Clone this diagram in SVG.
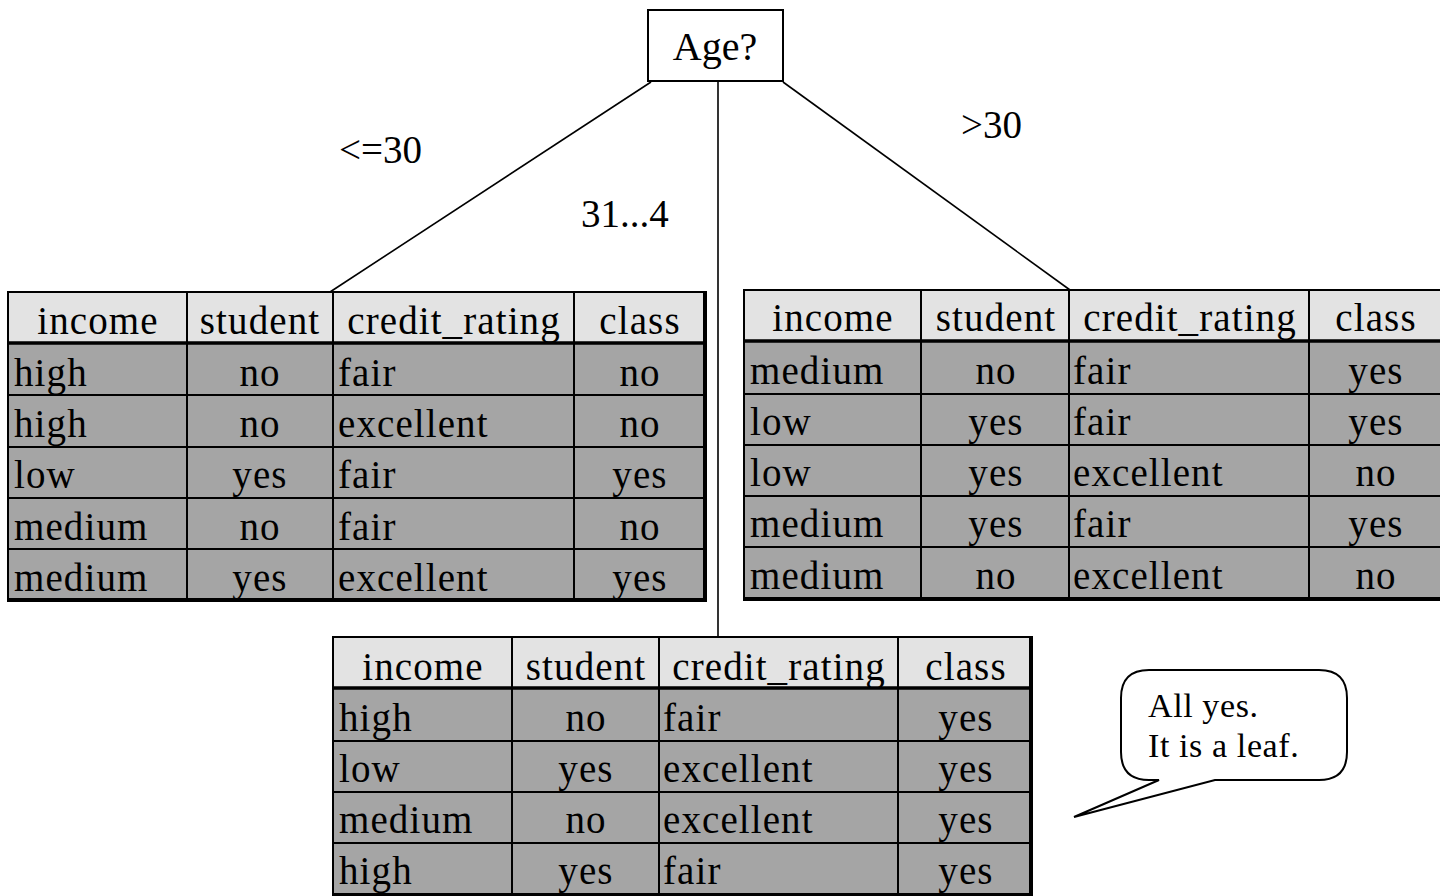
<svg xmlns="http://www.w3.org/2000/svg" width="1440" height="896" viewBox="0 0 1440 896">
  <style>
    text { font-family: "Liberation Serif", "Times New Roman", serif; fill: #000; }
    .cell { font-size: 39px; letter-spacing: 1.1px; }
    .mid { text-anchor: middle; }
    .lbl { font-size: 39px; }
    .note { font-size: 34px; letter-spacing: 0.6px; }
    .head { fill: #e3e3e3; }
    .body { fill: #a5a5a5; }
    .grid { stroke: #000; stroke-width: 2; fill: none; }
    .heavy { stroke: #000; stroke-width: 4; fill: none; }
    .rule { stroke: #000; stroke-width: 3.5; fill: none; }
    .edge { stroke: #000; stroke-width: 1.6; fill: none; }
  </style>

  <rect width="1440" height="896" fill="#fff"/>

  <!-- branches of the split -->
  <g id="connectors">
    <line class="edge" x1="651" y1="82" x2="330" y2="292"/>
    <line class="edge" x1="718" y1="81" x2="718" y2="637"/>
    <line class="edge" x1="783" y1="82" x2="1070" y2="290"/>
  </g>

  <!-- branch labels -->
  <g id="labels">
    <text class="lbl" x="339" y="163">&lt;=30</text>
    <text class="lbl" x="961" y="138">&gt;30</text>
    <text class="lbl" x="581" y="227">31...4</text>
  </g>

  <!-- root test -->
  <g id="age">
    <rect x="648" y="10" width="135" height="71" fill="#fff" stroke="#000" stroke-width="2"/>
    <text class="lbl mid" x="715" y="60" style="font-size:40px">Age?</text>
  </g>

  <!-- partition: age <= 30 -->
  <g id="table-young">
    <rect class="head" x="8" y="292" width="697" height="51"/>
    <rect class="body" x="8" y="343" width="697" height="257"/>
    <path class="grid" d="M8 395H705M8 447H705M8 498H705M8 549H705M187 292V600M333 292V600M574 292V600M8 600V292H705"/>
    <path class="rule" d="M8 343H705"/>
    <path class="heavy" d="M705 291V600H7"/>
    <text class="cell mid" x="98" y="334">income</text>
    <text class="cell mid" x="260" y="334">student</text>
    <text class="cell mid" x="454" y="334">credit_rating</text>
    <text class="cell mid" x="640" y="334">class</text>

    <text class="cell" x="14" y="386">high</text>
    <text class="cell mid" x="260" y="386">no</text>
    <text class="cell" x="338" y="386">fair</text>
    <text class="cell mid" x="640" y="386">no</text>

    <text class="cell" x="14" y="437">high</text>
    <text class="cell mid" x="260" y="437">no</text>
    <text class="cell" x="338" y="437">excellent</text>
    <text class="cell mid" x="640" y="437">no</text>

    <text class="cell" x="14" y="488">low</text>
    <text class="cell mid" x="260" y="488">yes</text>
    <text class="cell" x="338" y="488">fair</text>
    <text class="cell mid" x="640" y="488">yes</text>

    <text class="cell" x="14" y="540">medium</text>
    <text class="cell mid" x="260" y="540">no</text>
    <text class="cell" x="338" y="540">fair</text>
    <text class="cell mid" x="640" y="540">no</text>

    <text class="cell" x="14" y="591">medium</text>
    <text class="cell mid" x="260" y="591">yes</text>
    <text class="cell" x="338" y="591">excellent</text>
    <text class="cell mid" x="640" y="591">yes</text>
  </g>

  <!-- partition: age > 30 -->
  <g id="table-old">
    <rect class="head" x="744" y="290" width="700" height="51"/>
    <rect class="body" x="744" y="341" width="700" height="258"/>
    <path class="grid" d="M744 394H1444M744 445H1444M744 496H1444M744 547H1444M921 290V599M1069 290V599M1309 290V599M744 599V290H1444"/>
    <path class="rule" d="M744 341H1444"/>
    <path class="heavy" d="M743 599H1444"/>
    <text class="cell mid" x="833" y="331">income</text>
    <text class="cell mid" x="996" y="331">student</text>
    <text class="cell mid" x="1190" y="331">credit_rating</text>
    <text class="cell mid" x="1376" y="331">class</text>

    <text class="cell" x="750" y="384">medium</text>
    <text class="cell mid" x="996" y="384">no</text>
    <text class="cell" x="1073" y="384">fair</text>
    <text class="cell mid" x="1376" y="384">yes</text>

    <text class="cell" x="750" y="435">low</text>
    <text class="cell mid" x="996" y="435">yes</text>
    <text class="cell" x="1073" y="435">fair</text>
    <text class="cell mid" x="1376" y="435">yes</text>

    <text class="cell" x="750" y="486">low</text>
    <text class="cell mid" x="996" y="486">yes</text>
    <text class="cell" x="1073" y="486">excellent</text>
    <text class="cell mid" x="1376" y="486">no</text>

    <text class="cell" x="750" y="537">medium</text>
    <text class="cell mid" x="996" y="537">yes</text>
    <text class="cell" x="1073" y="537">fair</text>
    <text class="cell mid" x="1376" y="537">yes</text>

    <text class="cell" x="750" y="589">medium</text>
    <text class="cell mid" x="996" y="589">no</text>
    <text class="cell" x="1073" y="589">excellent</text>
    <text class="cell mid" x="1376" y="589">no</text>
  </g>

  <!-- partition: age 31...40 -->
  <g id="table-middle">
    <rect class="head" x="333" y="637" width="698" height="51"/>
    <rect class="body" x="333" y="688" width="698" height="207"/>
    <path class="grid" d="M333 741H1031M333 792H1031M333 843H1031M512 637V896M659 637V896M898 637V896M333 896V637H1031"/>
    <path class="rule" d="M333 688H1031"/>
    <path class="heavy" d="M1031 636V896M332 895H1031"/>
    <text class="cell mid" x="423" y="680">income</text>
    <text class="cell mid" x="586" y="680">student</text>
    <text class="cell mid" x="779" y="680">credit_rating</text>
    <text class="cell mid" x="966" y="680">class</text>

    <text class="cell" x="339" y="731">high</text>
    <text class="cell mid" x="586" y="731">no</text>
    <text class="cell" x="663" y="731">fair</text>
    <text class="cell mid" x="966" y="731">yes</text>

    <text class="cell" x="339" y="782">low</text>
    <text class="cell mid" x="586" y="782">yes</text>
    <text class="cell" x="663" y="782">excellent</text>
    <text class="cell mid" x="966" y="782">yes</text>

    <text class="cell" x="339" y="833">medium</text>
    <text class="cell mid" x="586" y="833">no</text>
    <text class="cell" x="663" y="833">excellent</text>
    <text class="cell mid" x="966" y="833">yes</text>

    <text class="cell" x="339" y="884">high</text>
    <text class="cell mid" x="586" y="884">yes</text>
    <text class="cell" x="663" y="884">fair</text>
    <text class="cell mid" x="966" y="884">yes</text>
  </g>

  <!-- speech bubble -->
  <g id="callout">
    <path d="M1149 670H1319Q1347 670 1347 698V752Q1347 780 1319 780H1215L1074 817L1159 780H1149Q1121 780 1121 752V698Q1121 670 1149 670Z" fill="#fff" stroke="#000" stroke-width="2" stroke-linejoin="miter"/>
    <text class="note" x="1148" y="717">All yes.</text>
    <text class="note" x="1148" y="757">It is a leaf.</text>
  </g>
</svg>
